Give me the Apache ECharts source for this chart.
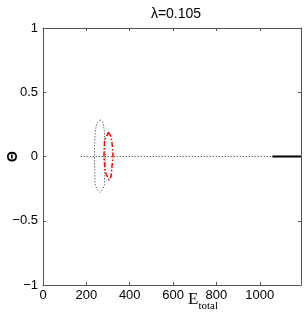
<!DOCTYPE html>
<html><head><meta charset="utf-8">
<script src="https://cdn.jsdelivr.net/npm/echarts@6/dist/echarts.min.js"></script>
<style>html,body{margin:0;padding:0;background:#fff}#c{width:305px;height:321px}</style>
</head><body><div id="c"></div>
<script>
const xTicks = [0, 200, 400, 600, 800, 1000];
const yTicks = [-1, -0.5, 0, 0.5, 1];
// horizontal branch: dotted part and solid part (E_total, Theta)
const dottedLine = [[174, 0], [1058, 0]];
const solidLine = [[1058, 0], [1190, 0]];
// dotted black loop
const loopBlack = [[264,0.284],[248,0.258],[242,0.206],[239,0.128],[237,0],[239,-0.105],[240,-0.21],[248,-0.255],[264,-0.279],[274,-0.26],[283,-0.22],[287,0],[283,0.2],[276,0.27],[264,0.284]];
// red dash-dot loop
const loopRed = [[302,0.188],[314,0.155],[320,0.08],[323,0],[318,-0.08],[314,-0.155],[304,-0.183],[287,-0.12],[281,0],[284,0.125],[302,0.188]];

const fmt = v => String(v).replace('-', '\u2212');
const font = 'Liberation Sans, Arial, sans-serif';
const chart = echarts.init(document.getElementById('c'));
chart.setOption({
  animation: false,
  title: { text: 'λ=0.105', left: 171, top: 2, textAlign: 'center',
    textStyle: { fontSize: 14, fontWeight: 'normal', color: '#000', fontFamily: font } },
  grid: { left: 43, right: 4, top: 28, bottom: 36, outerBoundsMode: 'none', containLabel: false },
  xAxis: [{
    type: 'value', min: 0, max: 1190, interval: 200,
    axisLine: { show: true, onZero: false, lineStyle: { color: '#555', width: 1 } },
    axisTick: { show: true, inside: true, length: 3, lineStyle: { color: '#555' } },
    axisLabel: { showMaxLabel: false, fontSize: 13, color: '#000', fontFamily: font, margin: 4, formatter: fmt },
    splitLine: { show: false },
    name: '{e|E}{s|total}', nameLocation: 'middle', nameGap: 2, nameMoveOverlap: false,
    nameTextStyle: { padding: [0, 0, 0, 62], rich: {
      e: { fontSize: 17, fontFamily: 'Liberation Serif, Times New Roman, serif', color: '#000' },
      s: { fontSize: 11, fontFamily: 'Liberation Serif, Times New Roman, serif', color: '#000', padding: [14, 0, 0, 0] } } }
  }, {
    type: 'value', position: 'top', min: 0, max: 1190, interval: 200,
    axisLine: { show: true, onZero: false, lineStyle: { color: '#555', width: 1 } },
    axisTick: { show: true, inside: true, length: 3, lineStyle: { color: '#555' } },
    axisLabel: { show: false }, splitLine: { show: false }
  }],
  yAxis: [{
    type: 'value', min: -1, max: 1, interval: 0.5,
    axisLine: { show: true, onZero: false, lineStyle: { color: '#555', width: 1 } },
    axisTick: { show: true, inside: true, length: 3, lineStyle: { color: '#555' } },
    axisLabel: { fontSize: 13, color: '#000', fontFamily: font, margin: 5, formatter: fmt },
    splitLine: { show: false },
    name: 'Θ', nameLocation: 'middle', nameRotate: 90, nameGap: 23, nameMoveOverlap: false,
    nameTextStyle: { fontSize: 14, fontWeight: 'bold', color: '#000', fontFamily: font }
  }, {
    type: 'value', position: 'right', min: -1, max: 1, interval: 0.5,
    axisLine: { show: true, onZero: false, lineStyle: { color: '#555', width: 1 } },
    axisTick: { show: true, inside: true, length: 3, lineStyle: { color: '#555' } },
    axisLabel: { show: false }, splitLine: { show: false }
  }],
  series: [
    { type: 'line', data: dottedLine, showSymbol: false, lineStyle: { color: '#222', width: 1, type: [1, 2] } },
    { type: 'line', data: solidLine, showSymbol: false, lineStyle: { color: '#000', width: 2 } },
    { type: 'line', data: loopBlack, showSymbol: false, lineStyle: { color: '#222', width: 1, type: [1, 2] } },
    { type: 'line', data: loopRed, showSymbol: false, lineStyle: { color: '#f00', width: 1.5, type: [5, 2, 1.5, 2] } }
  ]
});
</script></body></html>
